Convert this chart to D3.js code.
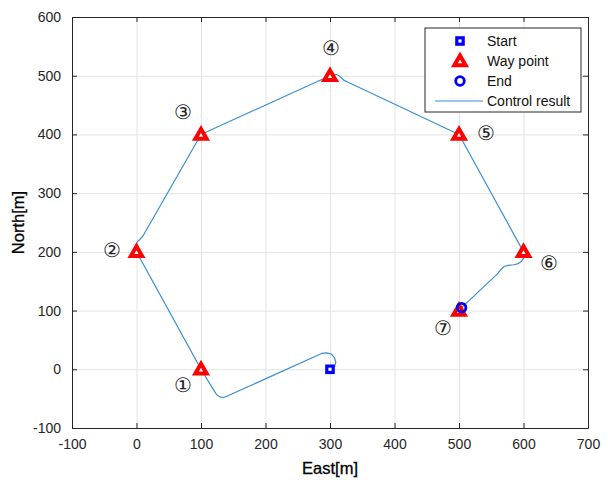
<!DOCTYPE html>
<html>
  <head>
    <meta charset="utf-8" />
    <script src="https://d3js.org/d3.v7.min.js"></script>
    <style>
      body { margin: 0; background: #fff; }
      text { font-family: "Liberation Sans", Arial, sans-serif; }
    </style>
  </head>
  <body>
    <svg id="chart" width="608" height="480"></svg>

    <script>
      // Datos
      const xTicks = [-100, 0, 100, 200, 300, 400, 500, 600, 700];
      const yTicks = [-100, 0, 100, 200, 300, 400, 500, 600];

      const startPt = [300, 0];
      const endPt = [504, 105];
      const wayEast = [100, 0, 100, 300, 500, 600, 500];
      const wayNorth = [0, 200, 400, 500, 400, 200, 100];
      const wayLabels = ["①", "②", "③", "④", "⑤", "⑥", "⑦"];
      const labelEast = [72, -38, 72, 302, 542, 640, 475];
      const labelNorth = [-27, 203, 438, 547, 402, 181, 70];

      // Trayectoria "Control result"
      const pathEast = [307, 309, 307, 302, 295, 287, 140, 135, 129, 124, 120, 100, 0, -1, 2, 6, 10,
        100, 110, 300, 305, 310, 314, 318, 322, 328, 500, 600, 601, 600, 597, 592, 585, 576, 570, 565, 560, 504];
      const pathNorth = [4, 12, 20, 26, 28, 27, -46, -48, -47, -43, -36, 0, 200, 212, 218, 222, 227,
        400, 405, 500, 502, 502, 500, 496, 492, 489, 400, 200, 195, 189, 184, 180, 178, 177, 175, 170, 163, 105];

      const legendItems = ["Start", "Way point", "End", "Control result"];

      const svg = d3.select("#chart");
      const margin = { top: 17, right: 20, bottom: 52, left: 72 };
      const width = 608, height = 480;
      const iw = width - margin.left - margin.right;
      const ih = height - margin.top - margin.bottom;

      const x = d3.scaleLinear().domain([-100, 700]).range([margin.left, width - margin.right]);
      const y = d3.scaleLinear().domain([-100, 600]).range([height - margin.bottom, margin.top]);

      const axisColor = "#262626";
      const lineColor = "#3a8fd4";

      // Rejilla
      svg.append("g")
        .attr("transform", `translate(0,${margin.top})`)
        .call(d3.axisTop(x).tickValues(xTicks).tickSize(-ih).tickFormat(""))
        .call((g) => g.select(".domain").remove())
        .selectAll("line").attr("stroke", "#e3e3e3");
      svg.append("g")
        .attr("transform", `translate(${margin.left},0)`)
        .call(d3.axisLeft(y).tickValues(yTicks).tickSize(-iw).tickFormat(""))
        .call((g) => g.select(".domain").remove())
        .selectAll("line").attr("stroke", "#e3e3e3");

      // Curva de control
      const pts = pathEast.map((e, i) => [e, pathNorth[i]]);
      svg.append("path")
        .datum(pts)
        .attr("fill", "none")
        .attr("stroke", lineColor)
        .attr("stroke-width", 1.2)
        .attr("stroke-linejoin", "round")
        .attr("d", d3.line().x((d) => x(d[0])).y((d) => y(d[1])));

      // Marcadores
      const tri = d3.symbol().type(d3.symbolTriangle).size(55);
      const drawTri = (g, px, py) =>
        g.append("path").attr("d", tri).attr("transform", `translate(${px},${py + 1})`)
          .attr("fill", "#fff").attr("stroke", "#ff0000").attr("stroke-width", 4).attr("stroke-linejoin", "miter");
      const drawSq = (g, px, py) =>
        g.append("rect").attr("x", px - 3.2).attr("y", py - 3.2).attr("width", 6.4).attr("height", 6.4)
          .attr("fill", "#fff").attr("stroke", "#0000ff").attr("stroke-width", 3.2);
      const drawCirc = (g, px, py) =>
        g.append("circle").attr("cx", px).attr("cy", py).attr("r", 4.3)
          .attr("fill", "none").attr("stroke", "#0000ff").attr("stroke-width", 2.8);

      const marks = svg.append("g");
      wayEast.forEach((e, i) => drawTri(marks, x(e), y(wayNorth[i])));
      drawSq(marks, x(startPt[0]), y(startPt[1]));
      drawCirc(marks, x(endPt[0]), y(endPt[1]));

      // Etiquetas numeradas
      svg.append("g")
        .selectAll("text")
        .data(wayLabels)
        .join("text")
        .attr("x", (d, i) => x(labelEast[i]))
        .attr("y", (d, i) => y(labelNorth[i]))
        .attr("dy", "0.36em")
        .attr("text-anchor", "middle")
        .attr("font-family", "'Noto Sans CJK SC', 'DejaVu Sans', sans-serif")
        .attr("font-size", 20)
        .attr("fill", "#222")
        .text((d) => d);

      // Ejes con marcas hacia dentro
      const tickLen = 5;
      const axes = [
        [d3.axisBottom(x).tickValues(xTicks), `translate(0,${height - margin.bottom})`, true],
        [d3.axisTop(x).tickValues(xTicks), `translate(0,${margin.top})`, false],
        [d3.axisLeft(y).tickValues(yTicks), `translate(${margin.left},0)`, true],
        [d3.axisRight(y).tickValues(yTicks), `translate(${width - margin.right},0)`, false],
      ];
      axes.forEach(([ax, tr, labels]) => {
        ax.tickSizeInner(-tickLen).tickSizeOuter(0).tickPadding(tickLen + 6);
        ax.tickFormat(labels ? (d) => String(d) : "");
        const g = svg.append("g").attr("transform", tr).call(ax);
        g.select(".domain").attr("stroke", axisColor).attr("stroke-width", 1);
        g.selectAll(".tick line").attr("stroke", axisColor);
        g.selectAll(".tick text")
          .attr("fill", axisColor)
          .attr("font-size", 14)
          .attr("font-family", "'Liberation Sans', Arial, sans-serif");
      });

      // Titulos de ejes
      svg.append("text")
        .attr("x", (margin.left + width - margin.right) / 2)
        .attr("y", 474)
        .attr("text-anchor", "middle")
        .attr("font-size", 16.5)
        .attr("fill", "#000")
        .attr("stroke", "#000")
        .attr("stroke-width", 0.3)
        .text("East[m]");
      svg.append("text")
        .attr("transform", `translate(24,${(margin.top + height - margin.bottom) / 2}) rotate(-90)`)
        .attr("text-anchor", "middle")
        .attr("font-size", 16.5)
        .attr("fill", "#000")
        .attr("stroke", "#000")
        .attr("stroke-width", 0.3)
        .text("North[m]");

      // Leyenda
      const lg = svg.append("g").attr("transform", "translate(425,28)");
      lg.append("rect").attr("width", 156).attr("height", 84)
        .attr("fill", "#fff").attr("stroke", axisColor).attr("stroke-width", 1);
      legendItems.forEach((name, i) => {
        const cy = 13 + i * 20;
        if (i === 0) drawSq(lg, 35, cy);
        if (i === 1) drawTri(lg, 35, cy);
        if (i === 2) drawCirc(lg, 35, cy);
        if (i === 3)
          lg.append("line").attr("x1", 10).attr("x2", 58).attr("y1", cy).attr("y2", cy)
            .attr("stroke", lineColor).attr("stroke-width", 1.2);
        lg.append("text").attr("x", 62).attr("y", cy).attr("dy", "0.36em")
          .attr("font-size", 14).attr("fill", "#111").text(name);
      });
    </script>
  </body>
</html>
